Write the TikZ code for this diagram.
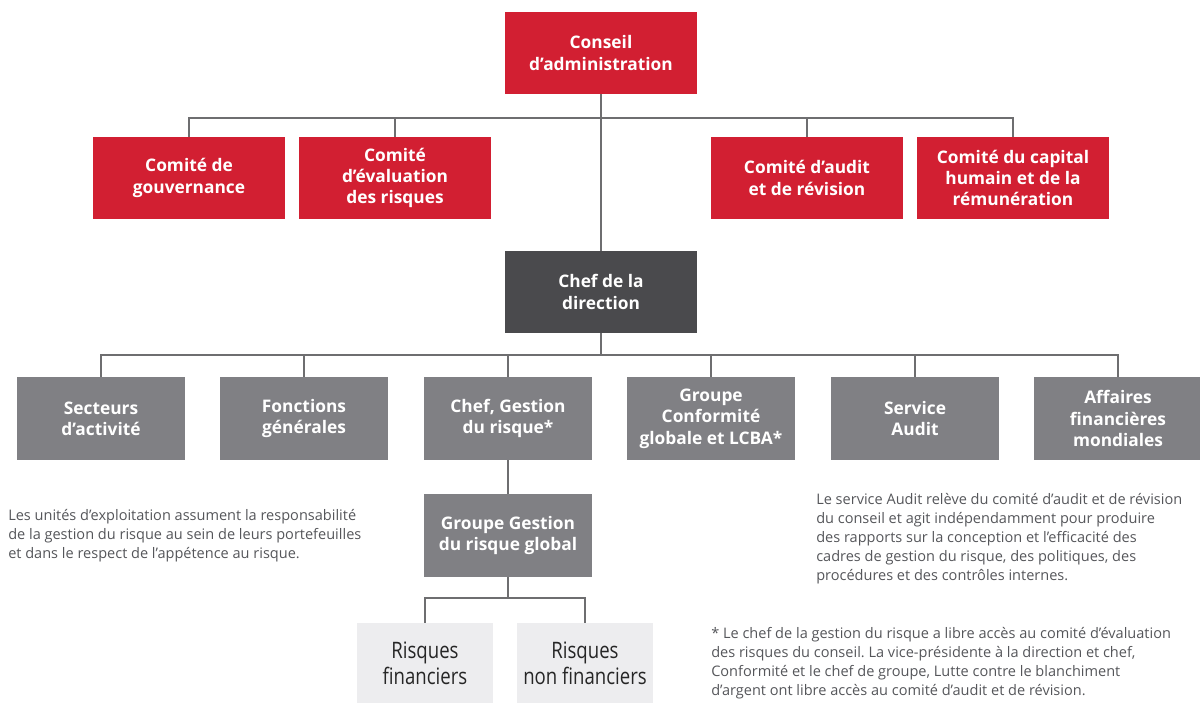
\documentclass[tikz,border=0pt]{standalone}
\usepackage{fontspec}
\setmainfont{Open Sans}
\setsansfont{Open Sans}
\newfontfamily\condfont[FakeStretch=0.82]{Open Sans}
\frenchspacing
\definecolor{sbred}{HTML}{D21F32}
\definecolor{sbdark}{HTML}{4A4A4D}
\definecolor{sbmid}{HTML}{808084}
\definecolor{sblight}{HTML}{EDEDEF}
\definecolor{sbline}{HTML}{6E6E70}
\definecolor{sbtext}{HTML}{55565A}
\tikzset{
  box/.style={rectangle, inner sep=2pt, align=center, text=white,
    font=\fontsize{13}{16}\selectfont\bfseries},
  redbox/.style={box, fill=sbred, minimum width=144pt, minimum height=61.5pt},
  darkbox/.style={box, fill=sbdark, minimum width=144pt, minimum height=61.5pt},
  midbox/.style={box, fill=sbmid, minimum width=126pt, minimum height=62.25pt},
  lightbox/.style={rectangle, fill=sblight, align=center, text=black!85,
    minimum width=102pt, minimum height=60pt,
    font=\condfont\fontsize{17}{19.5}\selectfont},
  conn/.style={draw=sbline, line width=0.9pt},
  para/.style={anchor=north west, align=left, text=sbtext, inner sep=0pt,
    font=\fontsize{10.9}{14.3}\selectfont\frenchspacing}
}
\begin{document}
\begin{tikzpicture}[x=0.75pt, y=-0.75pt]
\useasboundingbox (0,0) rectangle (1200,703);
% level 0
\node[redbox] (conseil) at (601,53) {Conseil\\d’administration};
% committees
\node[redbox] (gouv) at (189,178) {Comité de\\gouvernance};
\node[redbox] (eval) at (395,178) {Comité\\d’évaluation\\des risques};
\node[redbox] (audit) at (807,178) {Comité d’audit\\et de révision};
\node[redbox] (capital) at (1013,178) {Comité du capital\\humain et de la\\rémunération};
% CEO
\node[darkbox] (chef) at (601,292) {Chef de la\\direction};
% level 3
\node[midbox] (sect) at (101,418.5) {Secteurs\\d’activité};
\node[midbox] (fonc) at (304,418.5) {Fonctions\\générales};
\node[midbox] (cgr) at (508,418.5) {Chef, Gestion\\du risque*};
\node[midbox] (conf) at (711,418.5) {Groupe\\Conformité\\globale et LCBA*};
\node[midbox] (serv) at (915,418.5) {Service\\Audit};
\node[midbox] (afm) at (1118,418.5) {Affaires\\financières\\mondiales};
% risk group
\node[midbox] (ggr) at (508,535.5) {Groupe Gestion\\du risque global};
\node[lightbox] (rf) at (425,663) {Risques\\financiers};
\node[lightbox] (rnf) at (585,663) {Risques\\non financiers};
% bus coordinates
\coordinate (b1) at (601,118);
\coordinate (b2) at (601,355);
\coordinate (b3) at (508,598);
% connectors
\draw[conn] (conseil.south) -- (chef.north);
\draw[conn] (gouv.north) |- (b1) -| (capital.north);
\draw[conn] (eval.north) -- (eval.north |- b1);
\draw[conn] (audit.north) -- (audit.north |- b1);
\draw[conn] (chef.south) -- (b2);
\draw[conn] (sect.north) |- (b2) -| (afm.north);
\draw[conn] (fonc.north) -- (fonc.north |- b2);
\draw[conn] (cgr.north) -- (cgr.north |- b2);
\draw[conn] (conf.north) -- (conf.north |- b2);
\draw[conn] (serv.north) -- (serv.north |- b2);
\draw[conn] (cgr.south) -- (ggr.north);
\draw[conn] (ggr.south) -- (b3);
\draw[conn] (rf.north) |- (b3) -| (rnf.north);
% texts
\node[para] (t1) at (8,509) {Les unités d’exploitation assument la responsabilité\\de la gestion du risque au sein de leurs portefeuilles\\et dans le respect de l’appétence au risque.};
\node[para] (t2) at (816,493) {Le service Audit relève du comité d’audit et de révision\\du conseil et agit indépendamment pour produire\\des rapports sur la conception et l’efficacité des\\cadres de gestion du risque, des politiques, des\\procédures et des contrôles internes.};
\node[para] (t3) at (711,627) {* Le chef de la gestion du risque a libre accès au comité d’évaluation\\des risques du conseil. La vice-présidente à la direction et chef,\\Conformité et le chef de groupe, Lutte contre le blanchiment\\d’argent ont libre accès au comité d’audit et de révision.};
\end{tikzpicture}
\end{document}
